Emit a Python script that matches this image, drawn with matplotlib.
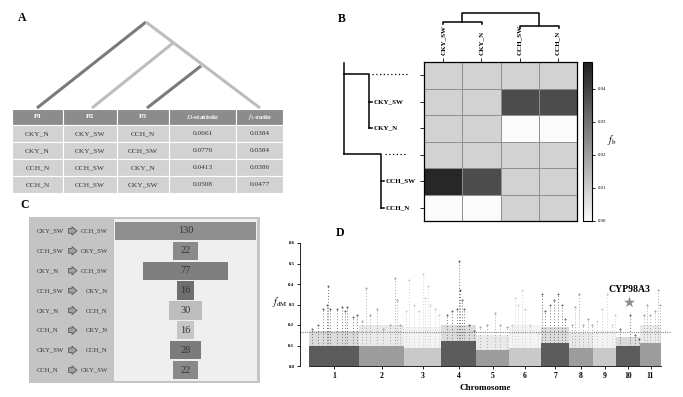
import numpy as np
import matplotlib
matplotlib.use("Agg")
import matplotlib.pyplot as plt
from matplotlib.colors import LinearSegmentedColormap
from matplotlib.patches import Rectangle
import matplotlib.transforms as mtransforms

plt.rcParams['font.family'] = ['Liberation Serif', 'DejaVu Serif']
plt.rcParams['mathtext.fontset'] = 'stix'

# ---- A: D-statistic table
tab_header = ['P1', 'P2', 'P3', r'$D$-statistic', r'$f_4$-ratio']
p1 = ['CKY_N', 'CKY_N', 'CCH_N', 'CCH_N']
p2 = ['CKY_SW', 'CKY_SW', 'CCH_SW', 'CCH_SW']
p3 = ['CCH_N', 'CCH_SW', 'CKY_N', 'CKY_SW']
d_stat = [0.0661, 0.0770, 0.0413, 0.0508]
f4_ratio = [0.0384, 0.0384, 0.0386, 0.0477]

# ---- B: f-branch matrix
fb_cols = ['CKY_SW', 'CKY_N', 'CCH_SW', 'CCH_N']
fb_rows = ['', 'CKY_SW', 'CKY_N', '', 'CCH_SW', 'CCH_N']
fb_vals = [[0.009, 0.009, 0.009, 0.009],
           [0.009, 0.009, 0.038, 0.038],
           [0.009, 0.009, 0.000, 0.000],
           [0.009, 0.009, 0.009, 0.009],
           [0.046, 0.038, 0.009, 0.009],
           [0.000, 0.000, 0.009, 0.009]]

# ---- C: gene flow counts
flow_src = ['CKY_SW', 'CCH_SW', 'CKY_N', 'CCH_SW', 'CKY_N', 'CCH_N', 'CKY_SW', 'CCH_N']
flow_dst = ['CCH_SW', 'CKY_SW', 'CCH_SW', 'CKY_N', 'CCH_N', 'CKY_N', 'CCH_N', 'CKY_SW']
flow_n = [130, 22, 77, 16, 30, 16, 28, 22]

# ---- D: fdM along chromosomes (Mb, fdM)
chrom_names = ['1', '2', '3', '4', '5', '6', '7', '8', '9', '10', '11']
chrom_len = [100, 90, 74, 70, 66, 64, 56, 48, 46, 48, 42]
chrom_base = [0.10, 0.10, 0.09, 0.12, 0.08, 0.09, 0.11, 0.09, 0.09, 0.10, 0.11]
chrom_fuzz = [0.17, 0.20, 0.19, 0.20, 0.15, 0.20, 0.19, 0.16, 0.17, 0.14, 0.20]
chrom_peaks = [
    [(5, 0.18), (18, 0.20), (28, 0.28), (35, 0.30), (37, 0.39), (41, 0.28), (55, 0.28),
     (65, 0.29), (71, 0.27), (76, 0.29), (88, 0.24), (95, 0.25)],
    [(5, 0.22), (13, 0.38), (21, 0.25), (35, 0.28), (48, 0.18), (61, 0.20), (71, 0.43),
     (75, 0.32), (81, 0.20)],
    [(3, 0.27), (10, 0.42), (19, 0.30), (29, 0.27), (37, 0.45), (42, 0.33), (47, 0.39),
     (52, 0.30), (62, 0.28), (70, 0.25)],
    [(11, 0.25), (21, 0.27), (31, 0.28), (36, 0.51), (37, 0.37), (41, 0.32), (46, 0.28),
     (55, 0.20), (65, 0.17)],
    [(8, 0.19), (21, 0.20), (38, 0.26), (48, 0.20), (61, 0.19)],
    [(5, 0.20), (11, 0.33), (18, 0.30), (25, 0.37), (31, 0.28), (41, 0.20), (58, 0.16)],
    [(2, 0.35), (8, 0.27), (17, 0.30), (25, 0.32), (33, 0.35), (41, 0.30), (48, 0.23)],
    [(5, 0.20), (11, 0.29), (20, 0.35), (28, 0.20), (38, 0.23), (45, 0.20)],
    [(7, 0.22), (17, 0.28), (27, 0.35), (37, 0.20), (43, 0.25)],
    [(8, 0.18), (27, 0.25), (38, 0.15), (45, 0.13)],
    [(7, 0.25), (13, 0.30), (20, 0.25), (30, 0.27), (35, 0.37), (39, 0.30)],
]
fdm_threshold = 0.165
gene_name = 'CYP98A3'
gene_chrom = 10
gene_pos = 26
gene_fdm = 0.31

W, H = 683, 397
fig = plt.figure(figsize=(W / 100, H / 100), dpi=100)


def px_axes(x0, y0, x1, y1):
    return fig.add_axes([x0 / W, 1 - y1 / H, (x1 - x0) / W, (y1 - y0) / H])


# overlay in pixel units for decoration
ov = fig.add_axes([0, 0, 1, 1])
ov.set_xlim(0, W)
ov.set_ylim(H, 0)
ov.axis('off')

for lab, (x, y) in zip('ABCD', [(22, 18), (342, 19), (25, 205), (340, 233)]):
    ov.text(x, y, lab, fontsize=8.5, fontweight='bold', ha='center', va='center')

# ---------------- A
dark, light = '#7a7a7a', '#bdbdbd'
ov.plot([37, 146], [108, 22], color=dark, lw=2.2, solid_capstyle='butt')
ov.plot([146, 260], [22, 108], color=light, lw=2.2, solid_capstyle='butt')
ov.plot([92, 173], [108, 43], color=light, lw=2.2, solid_capstyle='butt')
ov.plot([147, 201], [108, 66], color=dark, lw=2.2, solid_capstyle='butt')

col_x = [12, 63, 117, 169, 236, 283]
row_y = [109, 125, 142, 159, 176, 193]
rows = list(zip(p1, p2, p3, ['%.4f' % v for v in d_stat], ['%.4f' % v for v in f4_ratio]))
for r in range(len(row_y) - 1):
    for c in range(len(col_x) - 1):
        fc = '#8c8c8c' if r == 0 else '#d2d2d2'
        ov.add_patch(Rectangle((col_x[c], row_y[r]), col_x[c + 1] - col_x[c],
                               row_y[r + 1] - row_y[r], fc=fc, ec='white', lw=0.8))
        xc = (col_x[c] + col_x[c + 1]) / 2
        yc = (row_y[r] + row_y[r + 1]) / 2
        if r == 0:
            ov.text(xc, yc, tab_header[c], ha='center', va='center', fontsize=5.3,
                    color='white', fontweight='bold')
        else:
            ov.text(xc, yc, rows[r - 1][c], ha='center', va='center', fontsize=5.3,
                    color='#333333')

# ---------------- B
cmap = LinearSegmentedColormap.from_list('fb', ['#fbfbfb', '#1e1e1e'])
axh = px_axes(424, 62, 577, 221)
mesh = axh.pcolormesh(np.array(fb_vals), cmap=cmap, vmin=0, vmax=0.048)
for xg in range(1, len(fb_cols)):
    axh.axvline(xg, color='#8f8f8f', lw=0.7)
for yg in range(1, len(fb_rows)):
    axh.axhline(yg, color='#8f8f8f', lw=0.7)
axh.set_xlim(0, len(fb_cols))
axh.set_ylim(len(fb_rows), 0)
axh.xaxis.tick_top()
axh.set_xticks(np.arange(len(fb_cols)) + 0.5)
axh.set_xticklabels(fb_cols, rotation=90, fontsize=5, fontweight='bold')
axh.set_yticks(np.arange(len(fb_rows)) + 0.5)
axh.set_yticklabels([])
axh.tick_params(length=3, width=0.6, pad=2)
for s in axh.spines.values():
    s.set_linewidth(0.9)

axcb = px_axes(583, 62, 592, 221)
cb = fig.colorbar(mesh, cax=axcb, ticks=[0, 0.01, 0.02, 0.03, 0.04])
cb.ax.set_yticklabels(['%.2f' % t for t in [0, 0.01, 0.02, 0.03, 0.04]], fontsize=3.5)
cb.ax.tick_params(length=2, width=0.6, pad=2)
cb.outline.set_linewidth(0.8)
ov.text(612, 140, r'$f_{\rm b}$', fontsize=7, ha='center', va='center')

# top dendrogram
k = dict(color='black', lw=1.1)
ov.plot([443, 443, 482, 482], [24, 22, 22, 24], **k)
ov.plot([520, 520, 559, 559], [28, 26, 26, 28], **k)
ov.plot([462, 462, 539, 539], [22, 13, 13, 26], **k)
# left dendrogram
ov.plot([344, 344], [63, 154], **k)
ov.plot([344, 369, 369], [74, 74, 128], **k)
ov.plot([344, 381, 381], [154, 154, 208], **k)
ov.plot([372, 407], [74, 74], color='black', lw=0.9, ls=(0, (1, 2)))
ov.plot([385, 407], [154, 154], color='black', lw=0.9, ls=(0, (1, 2)))
trb = mtransforms.blended_transform_factory(ov.transData, axh.transData)
for i, name in enumerate(fb_rows):
    if not name:
        continue
    xl = 369 if i < 3 else 381
    ov.plot([xl, xl + 3], [i + 0.5, i + 0.5], color='black', lw=1.1, transform=trb)
    ov.text(xl + 5, i + 0.5, name, fontsize=5, fontweight='bold', va='center',
            transform=trb)

# ---------------- C
ov.add_patch(Rectangle((29, 217), 231, 166, fc='#c4c4c4', ec='none'))
axc = px_axes(114, 219, 257, 381)
axc.set_facecolor('#efefef')
counts = np.array(flow_n)
ypos = np.arange(len(flow_n))
bar_cols = ['#8f8f8f', '#8b8b8b', '#7f7f7f', '#6f6f6f', '#bdbdbd', '#c6c6c6', '#7b7b7b', '#898989']
axc.barh(ypos, counts, left=-counts / 2, height=0.92, color=bar_cols)
for y, n in zip(ypos, flow_n):
    axc.text(0, y, str(n), ha='center', va='center', fontsize=7.5, color='#333333')
axc.set_xlim(-65.5, 65.5)
axc.set_ylim(len(flow_n) - 0.45, -0.6)
axc.set_xticks([])
axc.set_yticks([])
for s in axc.spines.values():
    s.set_visible(False)
trc = mtransforms.blended_transform_factory(ov.transData, axc.transData)
for y, s, d in zip(ypos, flow_src, flow_dst):
    ov.text(37, y, s, fontsize=4.8, color='#333333', va='center', ha='left', transform=trc)
    ov.text(108, y, d, fontsize=4.8, color='#333333', va='center', ha='right', transform=trc)
    ov.annotate('', xy=(77, y), xytext=(68.5, y), xycoords=trc, textcoords=trc,
                arrowprops=dict(arrowstyle='simple,head_length=0.6,head_width=1.0,tail_width=0.55',
                                fc='#a0a0a0', ec='#4a4a4a', lw=0.5, mutation_scale=6,
                                shrinkA=0, shrinkB=0))

# ---------------- D
axd = px_axes(300, 243, 671, 366)
shades = ['#5c5c5c', '#9c9c9c', '#c9c9c9']
offsets = np.concatenate([[0], np.cumsum(chrom_len)[:-1]])
for i, (L, base, fuzz, peaks) in enumerate(zip(chrom_len, chrom_base, chrom_fuzz, chrom_peaks)):
    c = shades[i % 3]
    x0 = offsets[i]
    axd.fill_between([x0, x0 + L], 0, base, color=c, lw=0)
    axd.fill_between([x0, x0 + L], base, fuzz, color=c, lw=0, alpha=0.22)
    px = x0 + np.array([p for p, _ in peaks])
    py = np.array([v for _, v in peaks])
    axd.vlines(px, base, py, colors=c, linestyles=(0, (0.8, 2.2)), lw=0.7)
    axd.scatter(px, py, s=2, color=c, lw=0)
axd.axhline(fdm_threshold, color='#888888', lw=0.8, ls=(0, (1, 1)))
gx = offsets[gene_chrom - 1] + gene_pos
axd.scatter([gx], [gene_fdm], marker='*', s=70, color='#8c8c8c', lw=0)
axd.text(gx, gene_fdm + 0.04, gene_name, ha='center', va='bottom', fontsize=7,
         fontweight='bold')
axd.set_xlim(-18, 724)
axd.set_ylim(0, 0.6)
axd.spines['top'].set_visible(False)
axd.spines['right'].set_visible(False)
axd.spines['bottom'].set_bounds(0, sum(chrom_len))
axd.spines['left'].set_linewidth(0.6)
axd.spines['bottom'].set_linewidth(0.6)
axd.set_yticks(np.arange(0, 0.61, 0.1))
axd.set_yticklabels(['%.1f' % v for v in np.arange(0, 0.61, 0.1)], fontsize=3.5,
                    fontweight='bold')
axd.set_xticks(offsets + np.array(chrom_len) / 2)
axd.set_xticklabels(chrom_names, fontsize=5.5, fontweight='bold')
axd.tick_params(length=2, width=0.6, pad=2)
axd.set_xlabel('Chromosome', fontsize=6.5, fontweight='bold', labelpad=3)
axd.text(-0.055, 0.52, r'$f_{\rm dM}$', transform=axd.transAxes, fontsize=7,
         ha='center', va='center')

fig.savefig('out.png', dpi=100)
